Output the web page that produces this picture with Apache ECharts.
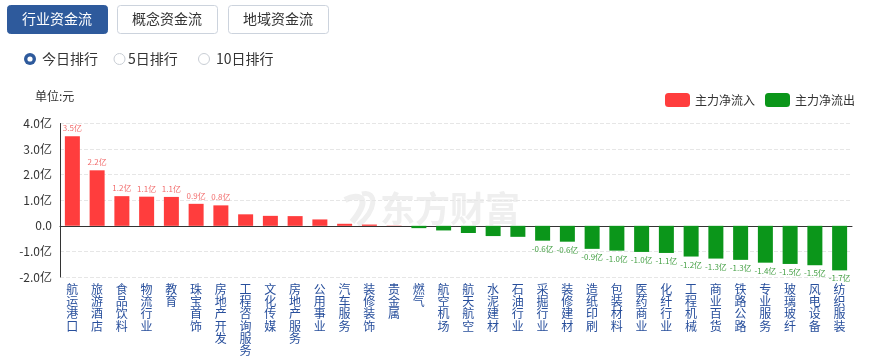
<!DOCTYPE html>
<html><head><meta charset="utf-8">
<script src="https://cdn.jsdelivr.net/npm/echarts@6/dist/echarts.min.js"></script>
<style>html,body{margin:0;padding:0;background:#fff}#c{width:872px;height:362px}</style>
</head><body><div id="c"></div>
<script>
const categories = ['航运港口','旅游酒店','食品饮料','物流行业','教育','珠宝首饰','房地产开发','工程咨询服务','文化传媒','房地产服务','公用事业','汽车服务','装修装饰','贵金属','燃气','航空机场','航天航空','水泥建材','石油行业','采掘行业','装修建材','造纸印刷','包装材料','医药商业','化纤行业','工程机械','商业百货','铁路公路','专业服务','玻璃玻纤','风电设备','纺织服装'];
// 主力净额，单位：亿
const values = [3.5, 2.17, 1.16, 1.14, 1.13, 0.86, 0.80, 0.45, 0.39, 0.38, 0.25, 0.08, 0.05, 0.01,
  -0.09, -0.18, -0.28, -0.40, -0.43, -0.58, -0.62, -0.90, -0.97, -1.02, -1.06, -1.20, -1.28, -1.33, -1.44, -1.49, -1.54, -1.74];
const seriesNames = ['主力净流入', '主力净流出'];
const tabNames = ['行业资金流', '概念资金流', '地域资金流'];
const radioNames = ['今日排行', '5日排行', '10日排行'];
const unitText = '单位:元';

const inflow = values.map(v => v > 0 ? v : '-');
const outflow = values.map(v => v <= 0 ? v : '-');
const FONT = '"Noto Sans CJK SC", "Microsoft YaHei", sans-serif';
const RED = '#ff3d3d', GREEN = '#0b961a';

const chart = echarts.init(document.getElementById('c'));
const labelFmt = p => Math.abs(p.value) >= 0.5 ? p.value.toFixed(1) + '亿' : '';

const graphics = [];
const tabX = [7, 117, 228];
tabNames.forEach((t, i) => {
  graphics.push({
    type: 'rect', left: tabX[i], top: 5,
    shape: { width: 100, height: 28, r: 3 },
    style: i === 0 ? { fill: '#2e5a9c', stroke: '#2e5a9c' } : { fill: '#fff', stroke: '#ccd3dd', lineWidth: 1 }
  });
  graphics.push({
    type: 'text', x: tabX[i] + 50, y: 19,
    style: { text: t, fill: i === 0 ? '#fff' : '#333', font: '14px ' + FONT, align: 'center', verticalAlign: 'middle' }
  });
});
const radioX = [30, 119.5, 204];
const radioTextX = [42, 128, 216];
radioNames.forEach((t, i) => {
  if (i === 0) {
    graphics.push({ type: 'circle', shape: { cx: radioX[i], cy: 59, r: 6 }, style: { fill: '#2e5a9c' } });
    graphics.push({ type: 'circle', shape: { cx: radioX[i], cy: 59, r: 2.6 }, style: { fill: '#fff' } });
  } else {
    graphics.push({ type: 'circle', shape: { cx: radioX[i], cy: 59, r: 5.5 }, style: { fill: '#fff', stroke: '#c8cdd4', lineWidth: 1 } });
  }
  graphics.push({
    type: 'text', x: radioTextX[i], y: 59,
    style: { text: t, fill: '#333', font: '14px ' + FONT, verticalAlign: 'middle' }
  });
});
graphics.push({ type: 'text', x: 35, y: 96, style: { text: unitText, fill: '#333', font: '12px ' + FONT, verticalAlign: 'middle' } });
// watermark
graphics.push({ type: 'text', x: 380, y: 209, z: -10, silent: true,
  style: { text: '东方财富', fill: '#efefef', font: 'bold 35px ' + FONT, verticalAlign: 'middle' } });
graphics.push({ type: 'bezierCurve', z: -10, silent: true,
  shape: { x1: 345, y1: 200, cpx1: 360, cpy1: 192, cpx2: 372, cpy2: 198, x2: 352, y2: 222 },
  style: { stroke: '#efefef', lineWidth: 6, fill: null } });
graphics.push({ type: 'bezierCurve', z: -10, silent: true,
  shape: { x1: 362, y1: 194, cpx1: 378, cpy1: 190, cpx2: 376, cpy2: 212, x2: 358, y2: 225 },
  style: { stroke: '#efefef', lineWidth: 5, fill: null } });

chart.setOption({
  animation: false,
  textStyle: { fontFamily: FONT },
  graphic: graphics,
  legend: {
    right: 12, top: 88, itemWidth: 25, itemHeight: 14, itemGap: 10,
    textStyle: { fontSize: 12, color: '#333', fontFamily: FONT },
    data: seriesNames
  },
  grid: { left: 60, right: 20, top: 123.5, bottom: 85, containLabel: false },
  xAxis: [{
    type: 'category', data: categories, position: 'bottom',
    axisLine: { show: false, onZero: false }, axisTick: { show: false },
    axisLabel: {
      interval: 0, margin: 6, color: '#284f9c', fontSize: 12, lineHeight: 12.3, fontFamily: FONT,
      formatter: v => v.split('').join('\n')
    }
  }, {
    type: 'category', data: categories, position: 'bottom',
    axisLine: { show: true, onZero: true, lineStyle: { color: '#333', width: 1 } },
    axisTick: { show: false }, axisLabel: { show: false }
  }],
  yAxis: {
    type: 'value', min: -2, max: 4, interval: 1,
    axisLine: { show: true, lineStyle: { color: '#333' } },
    axisTick: { show: false },
    splitLine: { lineStyle: { color: '#e6e6e6', type: 'dashed' } },
    axisLabel: { margin: 8, color: '#333', fontSize: 12, fontFamily: FONT,
      formatter: v => v === 0 ? '0.0' : v.toFixed(1) + '亿' }
  },
  series: [{
    name: seriesNames[0], type: 'bar', stack: 'a', data: inflow, barWidth: 15,
    itemStyle: { color: RED },
    label: { show: true, position: 'top', distance: 4, fontSize: 8, color: '#f26d6d', formatter: labelFmt }
  }, {
    name: seriesNames[1], type: 'bar', stack: 'a', data: outflow, barWidth: 15,
    itemStyle: { color: GREEN },
    label: { show: true, position: 'bottom', distance: 4, fontSize: 8, color: '#45a045', formatter: labelFmt }
  }]
});
</script></body></html>
